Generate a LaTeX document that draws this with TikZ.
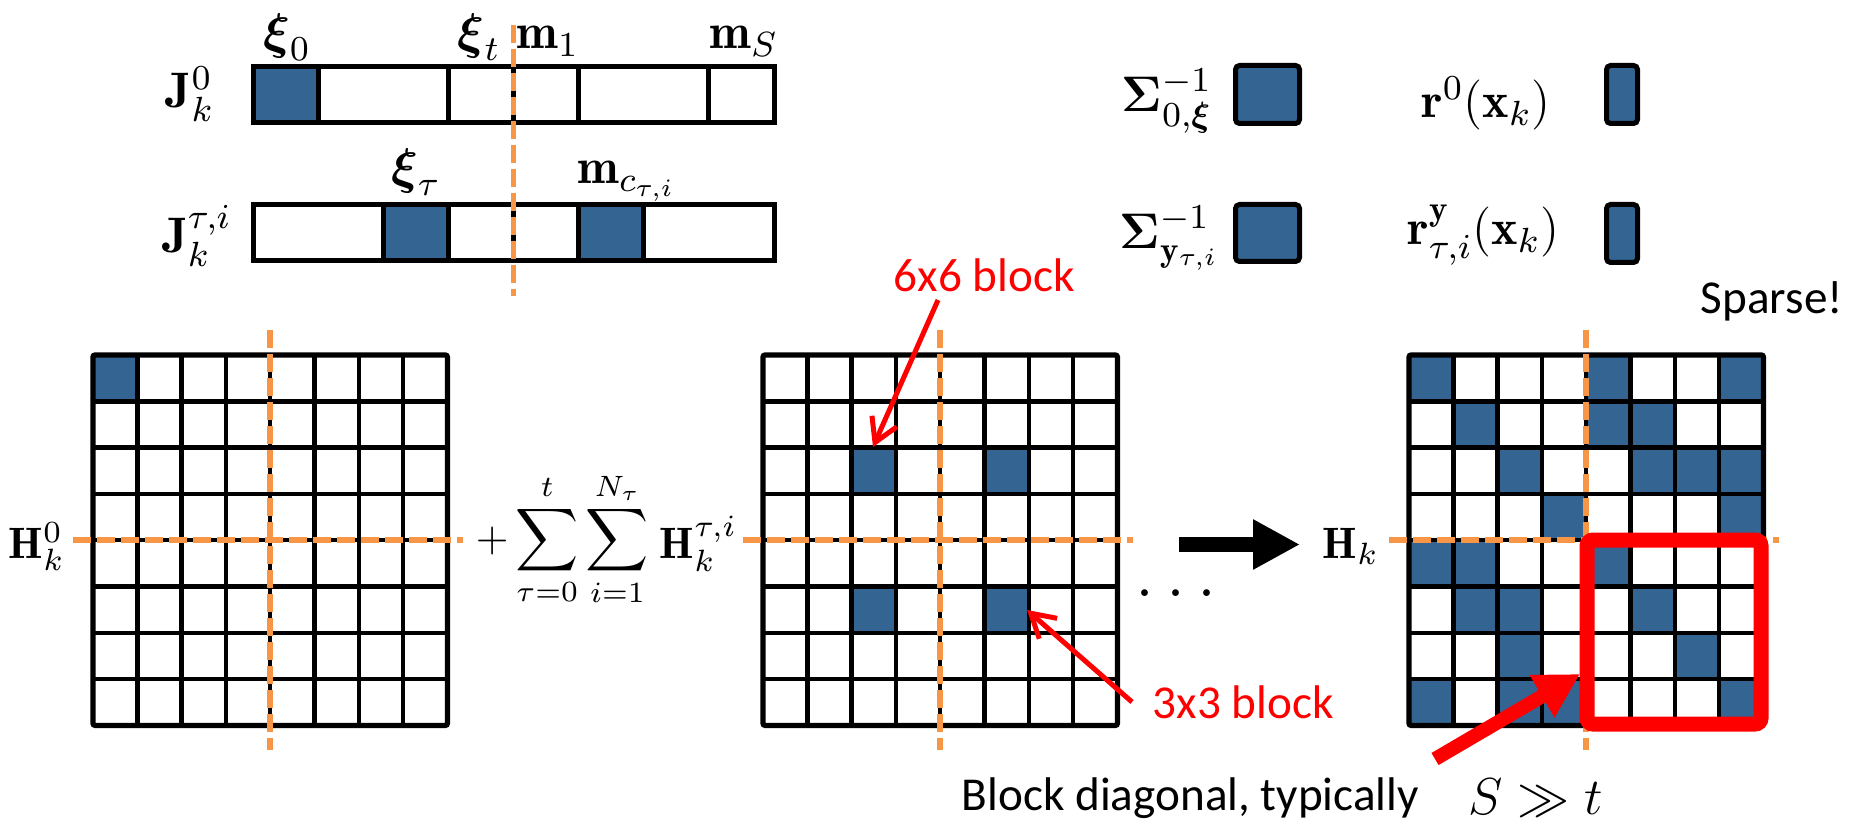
\RequirePackage{fix-cm}
\documentclass[tikz,border=0pt]{standalone}
\usepackage{amsmath}
\usepackage{fontspec}
\newfontfamily\calibri{Carlito}
\usetikzlibrary{arrows.meta}

\definecolor{cellblue}{RGB}{51,100,146}
\definecolor{dashorange}{RGB}{247,150,70}
\definecolor{markred}{RGB}{255,0,0}

\tikzset{
  gridline/.style={line width=1.125pt, black},
  barline/.style={line width=1.25pt, black},
  cutline/.style={dashorange, line width=1.5pt, dash pattern=on 4.5pt off 1.5pt},
  toplbl/.style={inner sep=0pt, font=\fontsize{12.5}{15}\selectfont},
  rlbl/.style={inner sep=0pt, font=\fontsize{12.5}{15}\selectfont},
  hlbl/.style={inner sep=0pt, font=\fontsize{11}{13}\selectfont},
  sumlbl/.style={inner sep=0pt, font=\fontsize{10.5}{12}\selectfont},
  dotlbl/.style={inner sep=0pt, font=\fontsize{17.5}{20}\selectfont},
  relbl/.style={inner sep=0pt, font=\fontsize{13}{16}\selectfont},
  note/.style={inner sep=0pt, font=\calibri\fontsize{11.8}{14}\selectfont},
  thinarrow/.style={markred, line width=1.25pt, -{Straight Barb[length=5.8pt,width=6.8pt]}},
  bigarrow/.style={line width=3.75pt, -{Triangle[length=11.75pt,width=11.75pt]}},
}

% 8x8 block matrix: left edge, list of filled row/col cells
\newcommand{\drawhessian}[2]{%
  \begin{scope}[shift={(#1,355)}]
    \foreach \r/\c in {#2} \fill[cellblue] (\c*44.3,\r*46.3) rectangle ++(44.3,46.3);
    \foreach \i in {1,...,7} {
      \draw[gridline] (\i*44.3,0) -- (\i*44.3,370.4);
      \draw[gridline] (0,\i*46.3) -- (354.4,\i*46.3);
    }
    \draw[gridline, line width=1.3pt, rounded corners=0.5pt] (0,0) rectangle (354.4,370.4);
    \draw[cutline] (177.2,-25) -- (177.2,395);
    \draw[cutline] (-20,185.2) -- (370,185.2);
  \end{scope}}

\begin{document}
\begin{tikzpicture}[x=0.25pt, y=-0.25pt]
  \fill[white] (0,0) rectangle (1858,822);
  \useasboundingbox (0,0) rectangle (1858,822);

  % ---- Jacobian rows ----
  \fill[cellblue] (253,67) rectangle (318.1,123);
  \draw[barline] (253,67) rectangle (774,123);
  \foreach \x in {318.1,448.4,513.5,578.6,708.9} \draw[barline] (\x,67) -- (\x,123);

  \fill[cellblue] (383.3,205) rectangle (448.4,261);
  \fill[cellblue] (578.6,205) rectangle (643.8,261);
  \draw[barline] (253,205) rectangle (774,261);
  \foreach \x in {383.3,448.4,513.5,578.6,643.8} \draw[barline] (\x,205) -- (\x,261);

  \draw[cutline, line width=1.25pt] (513.5,25) -- (513.5,296);

  \node[toplbl, anchor=base] (xi0) at (287,49) {$\boldsymbol{\xi}_0$};
  \node[toplbl, anchor=base] (xit) at (479,49) {$\boldsymbol{\xi}_t$};
  \node[toplbl, anchor=base west] (m1) at (516,49) {$\mathbf{m}_1$};
  \node[toplbl, anchor=base west] (mS) at (709,49) {$\mathbf{m}_S$};
  \node[toplbl] (J0) at (190,94) {$\mathbf{J}_k^0$};
  \node[toplbl] (Jti) at (197,236) {$\mathbf{J}_k^{\tau,i}$};
  \node[toplbl, anchor=base] (xitau) at (416,184) {$\boldsymbol{\xi}_\tau$};
  \node[toplbl, anchor=base west] (mc) at (577,184) {$\mathbf{m}_{c_{\tau,i}}$};

  % ---- weights and residuals ----
  \node[rlbl, anchor=base west] (Sig0) at (1121,112) {$\boldsymbol{\Sigma}_{0,\boldsymbol{\xi}}^{-1}$};
  \node[rlbl, anchor=base west] (Sigy) at (1119,249) {$\boldsymbol{\Sigma}_{\mathbf{y}_{\tau,i}}^{-1}$};
  \node[rlbl, anchor=base west] (r0) at (1421,118) {$\mathbf{r}^0(\mathbf{x}_k)$};
  \node[rlbl, anchor=base west] (ry) at (1407,245) {$\mathbf{r}_{\tau,i}^{\mathbf{y}}(\mathbf{x}_k)$};
  \draw[barline, fill=cellblue, rounded corners=1pt] (1235.5,65.5) rectangle (1299.5,123.5);
  \draw[barline, fill=cellblue, rounded corners=1pt] (1235.5,204.5) rectangle (1299.5,261.5);
  \draw[barline, fill=cellblue, rounded corners=1pt] (1606.5,65.5) rectangle (1637.5,123.5);
  \draw[barline, fill=cellblue, rounded corners=1pt] (1606.5,204.5) rectangle (1637.5,262.5);

  % ---- Hessians ----
  \drawhessian{93}{0/0}
  \drawhessian{763}{2/2,2/5,5/2,5/5}
  \drawhessian{1409}{0/0,0/4,0/7,1/1,1/4,1/5,2/2,2/5,2/6,2/7,3/3,3/7,
                     4/0,4/1,4/4,5/1,5/2,5/5,6/2,6/6,7/0,7/2,7/3,7/7}

  \node[hlbl, anchor=base west] (H0) at (8,558) {$\mathbf{H}_k^0$};
  \node[sumlbl, anchor=base west] (sums) at (475,551) {$\displaystyle +\sum_{\tau=0}^{t}\sum_{i=1}^{N_\tau}$};
  \node[hlbl, anchor=base west] (Hti) at (659,558) {$\mathbf{H}_k^{\tau,i}$};
  \node[dotlbl, anchor=base] (dots) at (1176,596) {$\ldots$};
  \node[hlbl, anchor=base west] (Hk) at (1322,558) {$\mathbf{H}_k$};

  \coordinate (bigtail) at (1179,544.5);
  \coordinate (bighead) at (1300,544.5);
  \draw[bigarrow] (bigtail) -- (bighead);

  % ---- annotations ----
  \node[note, text=markred, anchor=base west] (n6) at (893,292) {6x6 block};
  \node[note, text=markred, anchor=base west] (n3) at (1152,718) {3x3 block};
  \node[note, anchor=base west] (sparse) at (1700,313) {Sparse!};
  \node[note, anchor=base west] (bd) at (961,810) {Block diagonal, typically};
  \node[relbl, anchor=base west] (sgt) at (1468,814) {$S \gg t$};

  \coordinate (a6tail) at (938,300);
  \coordinate (a6tip) at (873,447);
  \coordinate (a3tail) at (1132,702);
  \coordinate (a3tip) at (1027,610);
  \draw[thinarrow] (a6tail) -- (a6tip);
  \draw[thinarrow] (a3tail) -- (a3tip);

  \draw[markred, line width=3.75pt, rounded corners=1.5pt] (1587,540) rectangle (1761,724);
  \coordinate (bdtail) at (1435,759);
  \coordinate (bdtip) at (1580,674);
  \draw[markred, line width=3.5pt, -{Triangle[length=11pt,width=11.5pt]}] (bdtail) -- (bdtip);
\end{tikzpicture}
\end{document}
